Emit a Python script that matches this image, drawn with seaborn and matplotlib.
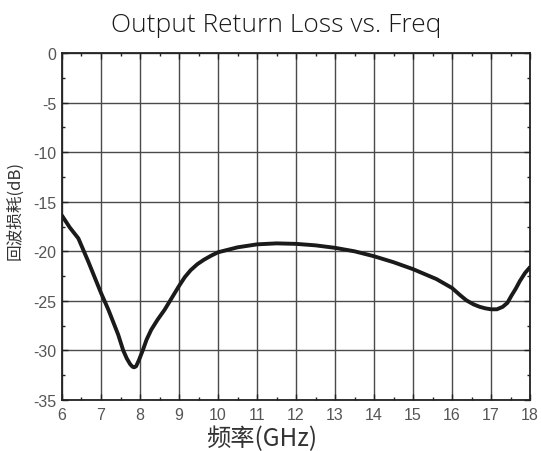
import numpy as np
import pandas as pd
import seaborn as sns
import matplotlib.pyplot as plt
from matplotlib.ticker import MultipleLocator

# frequency (GHz) and return loss (dB)
freq = [6.0, 6.2, 6.42, 6.67, 7.0, 7.19, 7.44, 7.57, 7.66, 7.75, 7.81, 7.85, 7.9, 7.97, 8.07, 8.17,
        8.29, 8.45, 8.63, 8.8, 9.0, 9.15, 9.3, 9.47, 9.64, 9.82, 10.0, 10.5, 11.0, 11.5, 12.0,
        12.5, 13.0, 13.5, 14.0, 14.5, 15.0, 15.6, 16.0, 16.2, 16.37, 16.55, 16.71, 16.85, 17.0,
        17.15, 17.3, 17.42, 17.52, 17.63, 17.74, 17.87, 18.0]
loss = [-16.4, -17.6, -18.7, -21.0, -24.2, -25.9, -28.4, -30.0, -30.8, -31.4, -31.65, -31.7, -31.6, -31.0, -30.0, -28.9,
        -27.9, -26.9, -25.9, -24.8, -23.5, -22.6, -21.9, -21.3, -20.85, -20.45, -20.1, -19.6, -19.3, -19.2, -19.25,
        -19.4, -19.65, -20.0, -20.5, -21.1, -21.8, -22.8, -23.7, -24.4, -24.95, -25.35, -25.6, -25.75, -25.85,
        -25.85, -25.6, -25.2, -24.5, -23.8, -23.0, -22.2, -21.6]

xticks = list(range(6, 19))
yticks = [0, -5, -10, -15, -20, -25, -30, -35]

title = "Output Return Loss vs. Freq"
xlabel = "频率(GHz)"
ylabel = "回波损耗(dB)"

df = pd.DataFrame({"freq": freq, "loss": loss})

sns.set_style("ticks")
plt.rcParams['font.family'] = ['Noto Sans CJK SC', 'DejaVu Sans']
plt.rcParams['axes.unicode_minus'] = False

fig = plt.figure(figsize=(5.41, 4.52), dpi=100)
ax = fig.add_axes([0.1146, 0.1128, 0.8651, 0.7677])

sns.lineplot(data=df, x="freq", y="loss", ax=ax, color="#1a1a1a", linewidth=2.8,
             solid_joinstyle="round", solid_capstyle="round", zorder=3)

ax.set_xlim(6, 18)
ax.set_ylim(-35, 0)
ax.set_xticks(xticks)
ax.set_yticks(yticks)
ax.xaxis.set_minor_locator(MultipleLocator(0.5))
ax.yaxis.set_minor_locator(MultipleLocator(2.5))
ax.grid(True, which="major", color="#4a4a4a", linewidth=1.0)

ax.tick_params(which="both", direction="in", top=True, right=True, color="#222222",
               labelsize=11.5, labelcolor="#555555")
ax.tick_params(axis="x", pad=5)
ax.tick_params(axis="y", pad=4)
ax.tick_params(which="major", length=4, width=1)
ax.tick_params(which="minor", length=2.5, width=1)
for label in ax.get_xticklabels() + ax.get_yticklabels():
    label.set_fontfamily("Liberation Sans")

for spine in ax.spines.values():
    spine.set_color("#222222")
    spine.set_linewidth(1.3)

ax.set_xlabel(xlabel, fontsize=17.5, color="#333333")
ax.set_ylabel(ylabel, fontsize=12, color="#333333")
ax.xaxis.set_label_coords(0.427, -0.072)
ax.yaxis.set_label_coords(-0.083, 0.55)
fig.suptitle(title, fontsize=19, fontfamily="Open Sans", fontweight="light", color="#1a1a1a",
             x=0.51, y=0.972)

plt.savefig("out.png", dpi=100)
